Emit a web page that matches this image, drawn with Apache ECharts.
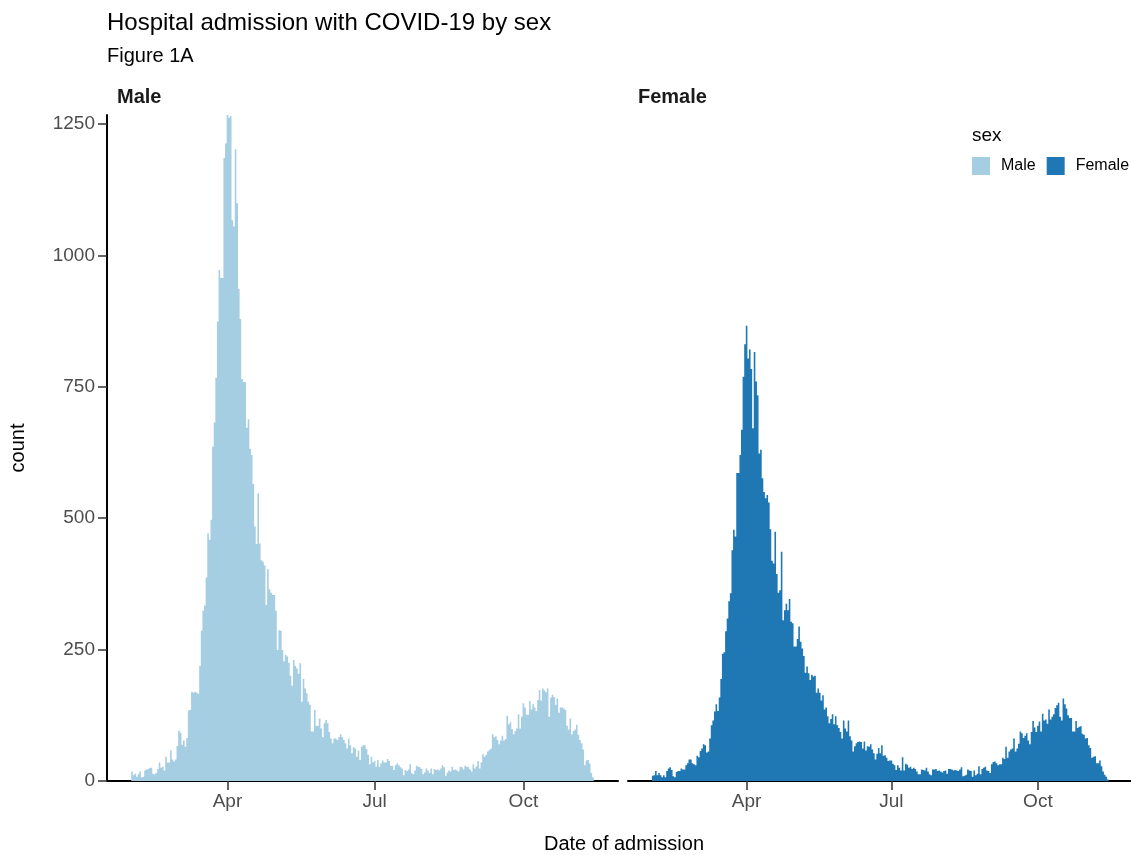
<!DOCTYPE html>
<html><head><meta charset="utf-8">
<script src="https://cdn.jsdelivr.net/npm/echarts@6/dist/echarts.min.js"></script>
<style>html,body{margin:0;padding:0;background:#fff}#c{width:1131px;height:855px}</style>
</head><body><div id="c"></div>
<script>
// ---- data ----
const axisStart = '2020-01-18';
const axisEnd = '2020-11-28';
const dataStart = '2020-02-02';
const tickDates = ['2020-04-01', '2020-07-01', '2020-10-01'];
const tickMonths = ['Apr', 'Jul', 'Oct'];
const yTicks = [0, 250, 500, 750, 1000, 1250];
const panelNames = ['Male', 'Female'];

const maleCounts = [
  18,11,14,8,13,18,7,8,20,22,23,25,25,14,13,15,23,35,25,27,20,46,35,35,58,41,37,41,67,96,92,69,77,65,82,134,135,170,168,170,168,166,
  219,286,324,334,387,471,459,497,636,682,
  767,874,972,957,957,1185,1213,1267,1262,1265,1067,1055,1202,1099,936,879,765,759,759,
  672,688,632,620,565,484,451,547,452,420,417,410,335,403,365,358,354,354,324,249,
  287,286,249,228,240,237,225,200,181,230,219,214,204,224,151,194,176,167,151,145,
  94,94,135,105,105,119,100,83,110,116,110,93,81,72,81,81,78,83,89,83,
  78,72,62,81,68,53,64,62,46,58,40,65,68,68,61,50,32,46,35,38,27,40,27,
  34,39,35,35,42,38,29,29,21,30,34,30,26,24,11,21,19,22,32,15,13,20,29,27,
  26,23,13,16,24,20,15,24,13,23,21,22,20,24,30,26,10,16,20,18,27,21,22,20,
  18,27,26,22,29,27,26,22,18,32,24,28,38,24,35,51,46,50,56,59,62,89,83,85,
  78,70,77,86,77,80,124,108,112,99,89,95,100,127,100,122,148,140,126,126,152,136,146,140,
  133,154,173,153,176,172,169,176,122,159,164,160,145,157,130,140,140,138,
  135,105,98,119,89,95,98,107,88,78,72,60,30,39,40,34,15,7
];

const femaleCounts = [
  10,11,19,11,15,11,7,11,7,19,24,26,21,9,7,17,19,19,24,22,22,30,34,41,41,34,32,
  30,48,45,57,62,70,68,54,56,81,106,115,132,146,133,
  159,194,242,245,285,309,342,357,439,478,465,586,586,620,668,769,831,866,804,821,
  784,671,816,760,734,623,630,576,550,538,544,530,479,419,414,474,394,358,363,436,
  306,325,337,325,346,303,300,256,256,270,294,265,252,238,206,218,205,192,202,199,200,168,
  176,168,153,163,136,140,123,110,118,127,108,123,106,101,93,81,115,100,
  94,115,85,77,56,66,72,74,75,74,62,75,58,66,65,70,60,
  53,41,52,63,53,68,48,49,44,38,39,39,33,30,21,30,25,
  20,45,20,33,31,25,27,23,25,23,18,13,13,22,21,20,25,18,
  13,11,22,22,23,19,20,18,16,19,20,14,23,23,22,20,21,
  20,19,22,26,9,10,12,22,20,19,8,20,11,14,28,13,23,25,
  27,20,19,15,32,36,37,34,30,32,32,44,42,65,44,56,60,
  62,81,56,62,71,94,91,82,86,91,77,70,93,114,102,93,105,
  113,94,128,115,117,109,136,117,122,127,139,144,149,122,115,157,146,138,
  125,120,120,94,94,114,101,103,104,90,88,81,82,68,63,44,46,
  47,34,34,39,28,18,12,8,3
];

// ---- build ----
function dateList(a, b) {
  const out = [];
  let t = Date.parse(a + 'T00:00:00Z');
  const e = Date.parse(b + 'T00:00:00Z');
  while (t <= e) { out.push(new Date(t).toISOString().slice(0, 10)); t += 86400000; }
  return out;
}
const categories = dateList(axisStart, axisEnd);
function align(counts) {
  const off = categories.indexOf(dataStart);
  return categories.map((c, i) => {
    const k = i - off;
    return (k >= 0 && k < counts.length) ? counts[k] : 0;
  });
}
const FONT = "'Liberation Sans', Arial, Helvetica, sans-serif";
const isTick = (idx, val) => tickDates.indexOf(val) >= 0;
const fmtTick = (val) => { const k = tickDates.indexOf(val); return k >= 0 ? tickMonths[k] : ''; };

function xAxisFor(gi) {
  return {
    type: 'category', gridIndex: gi, data: categories, boundaryGap: true,
    axisLine: { show: true, lineStyle: { color: '#000', width: 2 } },
    axisTick: { show: true, alignWithLabel: true, interval: isTick, length: 9, lineStyle: { color: '#333', width: 1.5 } },
    axisLabel: { interval: isTick, formatter: fmtTick, fontSize: 19, color: '#4d4d4d', margin: 11, fontFamily: FONT },
    splitLine: { show: false }
  };
}

const chart = echarts.init(document.getElementById('c'), null, { renderer: 'canvas' });
chart.setOption({
  animation: false,
  backgroundColor: '#fff',
  textStyle: { fontFamily: FONT },
  title: [
    { text: 'Hospital admission with COVID-19 by sex', left: 107, top: 11, padding: 0,
      textStyle: { fontSize: 24, fontWeight: 'normal', color: '#000', fontFamily: FONT } },
    { text: 'Figure 1A', left: 107, top: 46, padding: 0,
      textStyle: { fontSize: 20, fontWeight: 'normal', color: '#000', fontFamily: FONT } }
  ],
  legend: {
    data: panelNames, left: 972, top: 157, width: 400, orient: 'horizontal', padding: 0,
    itemWidth: 18, itemHeight: 18, itemGap: 11, icon: 'rect',
    textStyle: { fontSize: 16, color: '#000', padding: [0, 0, 0, 6], fontFamily: FONT }
  },
  grid: [
    { left: 107, top: 115, width: 511, height: 666 },
    { left: 628, top: 115, width: 511, height: 666 }
  ],
  xAxis: [xAxisFor(0), xAxisFor(1)],
  yAxis: [
    { type: 'value', gridIndex: 0, min: 0, max: 1267, interval: 250,
      axisLine: { show: true, lineStyle: { color: '#000', width: 2 } },
      axisTick: { show: true, length: 9, customValues: yTicks, lineStyle: { color: '#333', width: 1.5 } },
      axisLabel: { customValues: yTicks, formatter: (v) => String(v), fontSize: 19, color: '#4d4d4d', margin: 12, fontFamily: FONT },
      splitLine: { show: false } },
    { type: 'value', gridIndex: 1, min: 0, max: 1267, interval: 250, show: false,
      splitLine: { show: false } }
  ],
  series: [
    { name: 'Male', type: 'bar', xAxisIndex: 0, yAxisIndex: 0, data: align(maleCounts),
      barCategoryGap: '0%', barWidth: '100%', large: true, largeThreshold: 1, color: '#a6cee3',
      itemStyle: { color: '#a6cee3' } },
    { name: 'Female', type: 'bar', xAxisIndex: 1, yAxisIndex: 1, data: align(femaleCounts),
      barCategoryGap: '0%', barWidth: '100%', large: true, largeThreshold: 1, color: '#1f78b4',
      itemStyle: { color: '#1f78b4' } }
  ],
  graphic: [
    { type: 'text', x: 117, y: 97, style: { text: 'Male', fill: '#1a1a1a', fontSize: 20, fontWeight: 'bold', fontFamily: FONT, align: 'left', verticalAlign: 'middle' } },
    { type: 'text', x: 638, y: 97, style: { text: 'Female', fill: '#1a1a1a', fontSize: 20, fontWeight: 'bold', fontFamily: FONT, align: 'left', verticalAlign: 'middle' } },
    { type: 'text', x: 972, y: 136, style: { text: 'sex', fill: '#000', fontSize: 19, fontFamily: FONT, align: 'left', verticalAlign: 'middle' } },
    { type: 'text', x: 18, y: 448, rotation: Math.PI / 2, style: { text: 'count', fill: '#000', fontSize: 20, fontFamily: FONT, align: 'center', verticalAlign: 'middle' } },
    { type: 'text', x: 624, y: 844, style: { text: 'Date of admission', fill: '#000', fontSize: 20, fontFamily: FONT, align: 'center', verticalAlign: 'middle' } }
  ]
});
</script>
</body></html>
